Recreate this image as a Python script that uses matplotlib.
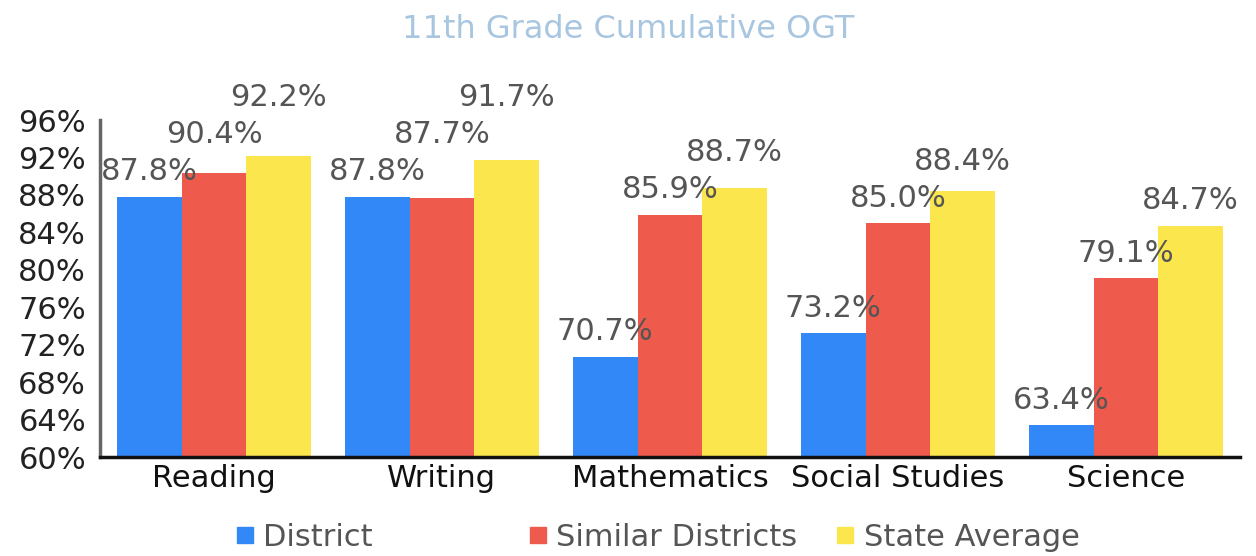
import numpy as np
import matplotlib
matplotlib.use("Agg")
import matplotlib.pyplot as plt
from matplotlib.lines import Line2D

# data
subjects = ["Reading", "Writing", "Mathematics", "Social Studies", "Science"]
district = [87.8, 87.8, 70.7, 73.2, 63.4]
similar = [90.4, 87.7, 85.9, 85.0, 79.1]
state = [92.2, 91.7, 88.7, 88.4, 84.7]
series_names = ["District", "Similar Districts", "State Average"]
colors = ["#3388f7", "#ee5a4c", "#fce64e"]
yticks = [60, 64, 68, 72, 76, 80, 84, 88, 92, 96]

plt.rcParams['font.family'] = ['DejaVu Sans']

fig = plt.figure(figsize=(12.56, 5.56), dpi=100)
ax = fig.add_axes([0.0796, 0.178, 0.9076, 0.606])

x = np.arange(len(subjects))
width = 0.284
series = [district, similar, state]

for i, vals in enumerate(series):
    ax.bar(x + (i - 1) * width, vals, width, color=colors[i], label=series_names[i], zorder=2)

ax.set_ylim(60, 96)
ax.set_xlim(-0.5, len(subjects) - 0.5)

# value labels, pushed up when they would collide with the previous one
px_per_unit = 0.606 * 556 / 36
offset = 25 / px_per_unit
gap = 37 / px_per_unit
for j in range(len(subjects)):
    prev = None
    for i, vals in enumerate(series):
        y = vals[j] + offset
        if prev is not None and y < prev + gap:
            y = prev + gap
        prev = y
        ax.text(x[j] + (i - 1) * width, y, f"{vals[j]:.1f}%", ha='center', va='center',
                fontsize=22, color='#555555', clip_on=False, zorder=3)

ax.set_yticks(yticks)
ax.set_yticklabels([f"{t}%" for t in yticks], fontsize=22, color='#222222')
ax.set_xticks(x)
ax.set_xticklabels(subjects, fontsize=22, color='#111111')
ax.tick_params(axis='y', length=0, pad=10)
ax.tick_params(axis='x', length=0, pad=5)

for s in ['top', 'right']:
    ax.spines[s].set_visible(False)
ax.spines['left'].set_color('#666666')
ax.spines['left'].set_linewidth(2.5)
ax.spines['bottom'].set_color('#111111')
ax.spines['bottom'].set_linewidth(2.5)
ax.spines['bottom'].set_zorder(4)

fig.suptitle("11th Grade Cumulative OGT", x=0.5, y=0.975, fontsize=23, color='#a9c6e0')

# legend: one entry per block, laid out like the original
legend_x = [0.183, 0.416, 0.661]
for i, name in enumerate(series_names):
    h = Line2D([], [], marker='s', linestyle='none', markersize=11, color=colors[i])
    fig.legend([h], [name], loc='center left', bbox_to_anchor=(legend_x[i], 0.033),
               frameon=False, fontsize=22, labelcolor='#555555', handletextpad=0.1,
               borderaxespad=0, borderpad=0, handlelength=1.0)

fig.savefig("out.png", dpi=100)
